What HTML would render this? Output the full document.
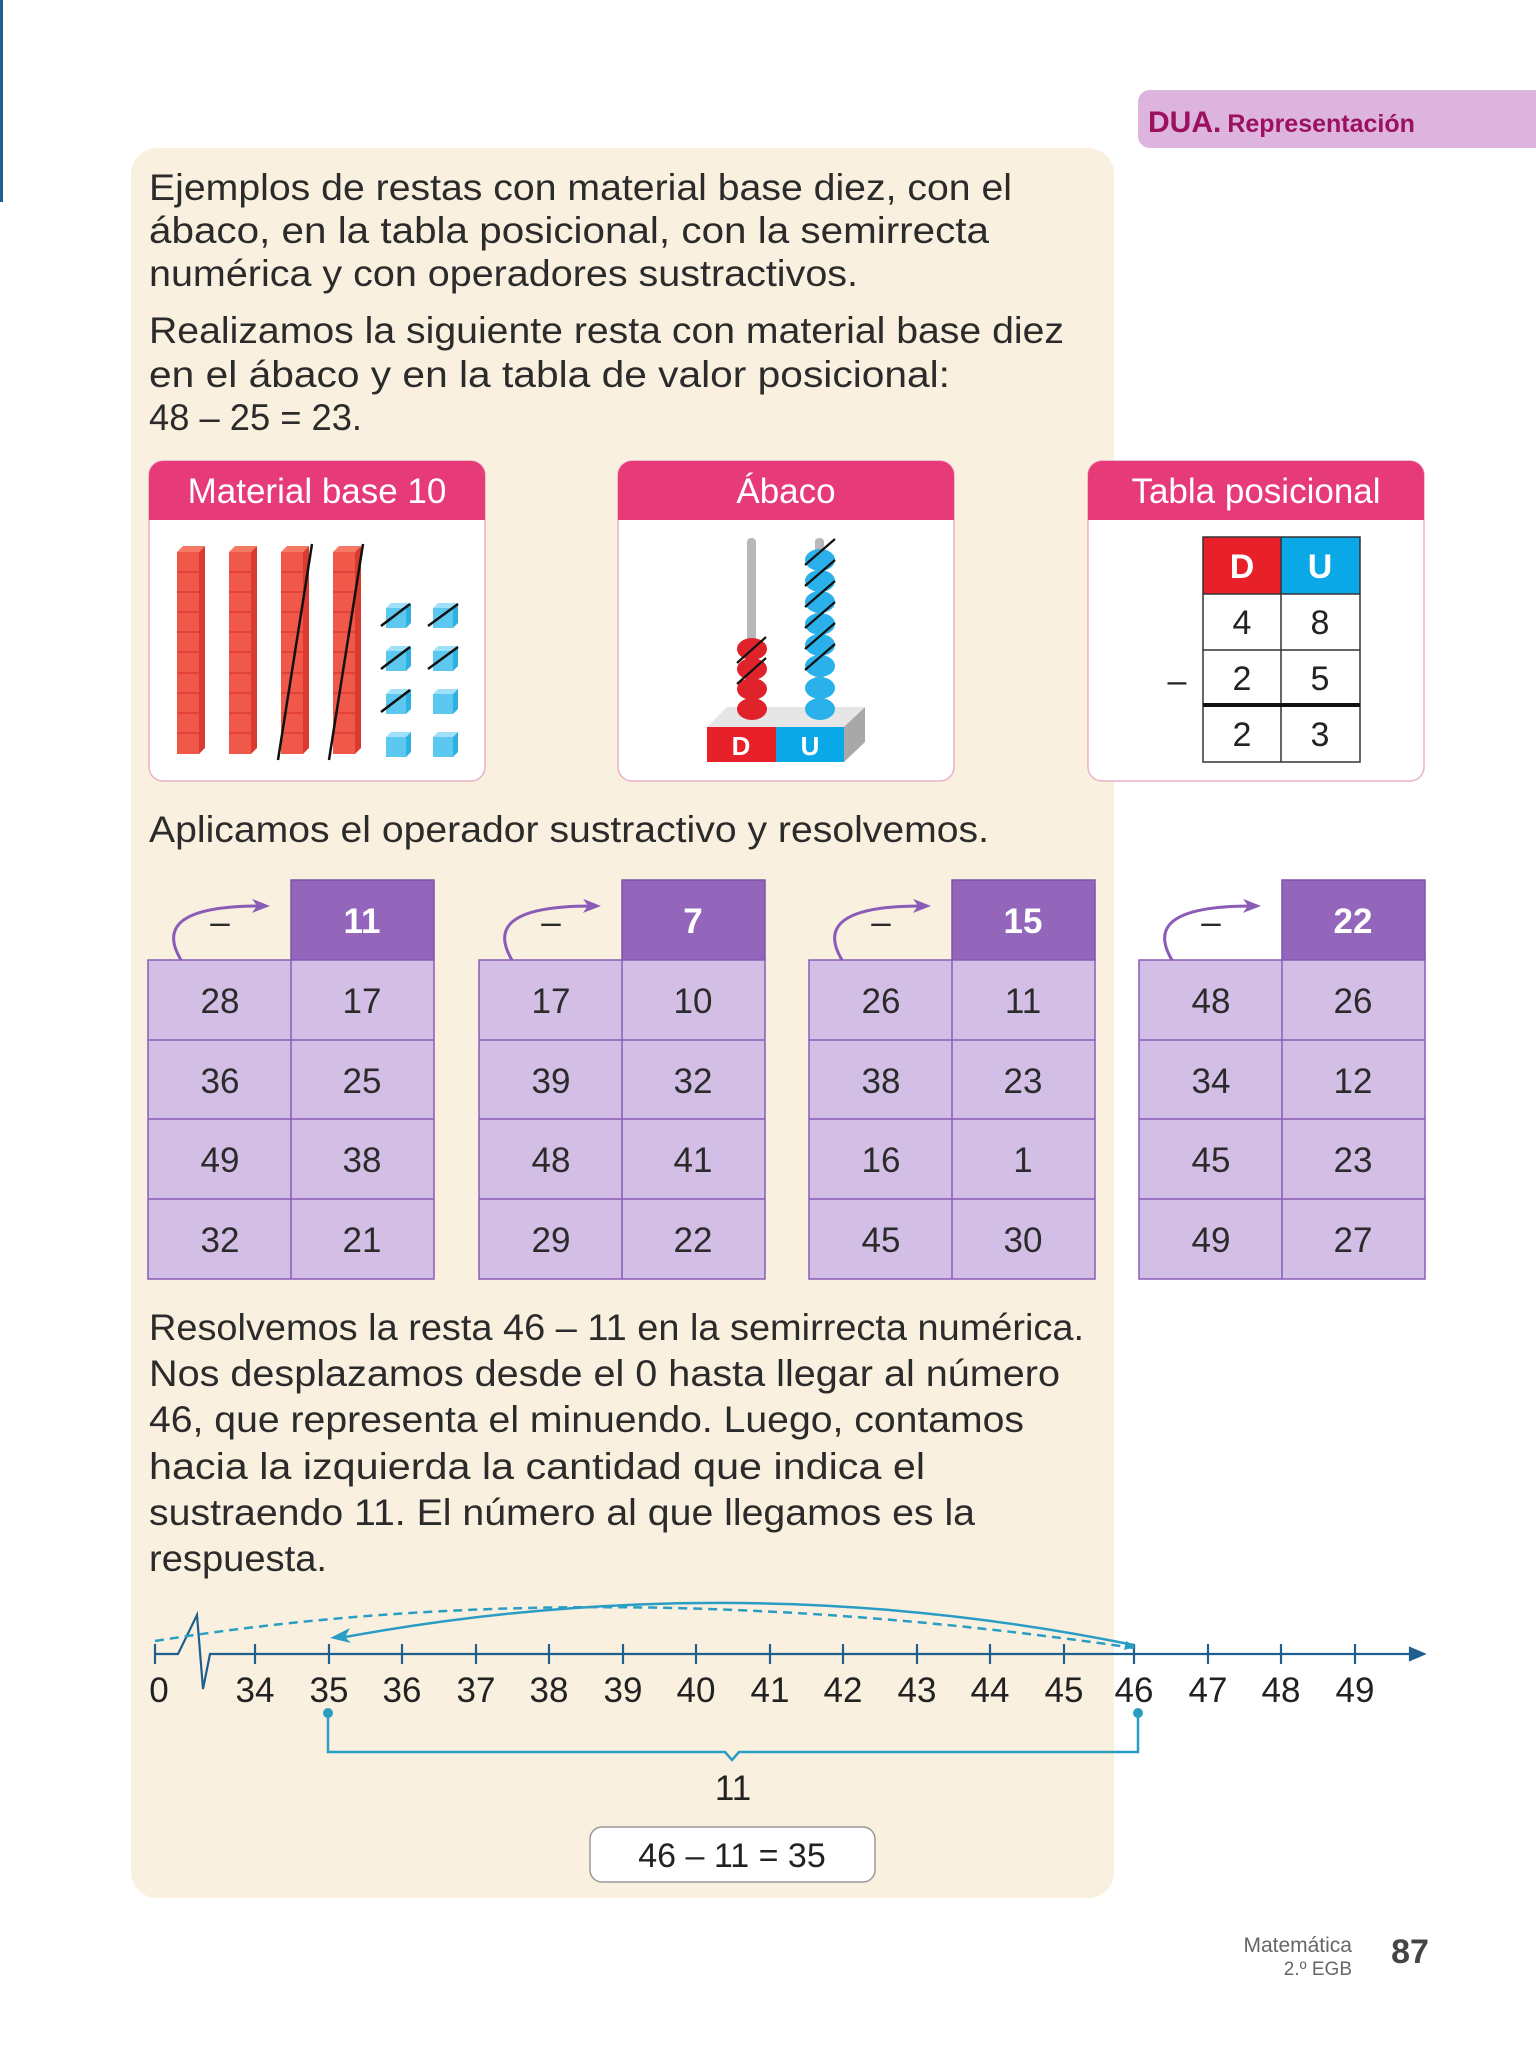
<!DOCTYPE html>
<html><head><meta charset="utf-8"><style>
html,body{margin:0;padding:0;background:#fff;}
svg{display:block;}
text{font-family:"Liberation Sans",sans-serif;}
</style></head><body>
<svg width="1536" height="2048" viewBox="0 0 1536 2048" xmlns="http://www.w3.org/2000/svg">
<defs>
<marker id="ah" markerWidth="8" markerHeight="8" refX="6" refY="4" orient="auto" markerUnits="userSpaceOnUse"><path d="M0,0 L8,4 L0,8 Z" fill="#2a9dc4"/></marker>
<marker id="ahp" markerWidth="18" markerHeight="14" refX="14" refY="7" orient="auto" markerUnits="userSpaceOnUse"><path d="M0,0 L18,7 L0,14 L5,7 Z" fill="#8a5cb8"/></marker>
<marker id="ahb" markerWidth="20" markerHeight="14" refX="2" refY="7" orient="auto" markerUnits="userSpaceOnUse"><path d="M20,0 L0,7 L20,14 L15,7 Z" fill="#2a9dc4"/></marker>
</defs>
<rect x="0" y="0" width="3" height="202" fill="#1f5f8f"/>
<!-- DUA tab -->
<rect x="1138" y="90" width="420" height="58" rx="12" fill="#ddb4dd"/>
<text x="1148" y="132" font-size="30" font-weight="bold" fill="#9b1060">DUA.<tspan font-size="25" dx="6">Representación</tspan></text>
<!-- beige -->
<rect x="131" y="148" width="983" height="1750" rx="26" fill="#faf0df"/>
<g font-size="37" fill="#2b2b2b">
<text x="149" y="200" textLength="863" lengthAdjust="spacingAndGlyphs">Ejemplos de restas con material base diez, con el</text>
<text x="149" y="243" textLength="840" lengthAdjust="spacingAndGlyphs">ábaco, en la tabla posicional, con la semirrecta</text>
<text x="149" y="286" textLength="709" lengthAdjust="spacingAndGlyphs">numérica y con operadores sustractivos.</text>
<text x="149" y="343" textLength="915" lengthAdjust="spacingAndGlyphs">Realizamos la siguiente resta con material base diez</text>
<text x="149" y="387" textLength="801" lengthAdjust="spacingAndGlyphs">en el ábaco y en la tabla de valor posicional:</text>
<text x="149" y="430" textLength="213" lengthAdjust="spacingAndGlyphs">48 – 25 = 23.</text>
<text x="149" y="842" textLength="840" lengthAdjust="spacingAndGlyphs">Aplicamos el operador sustractivo y resolvemos.</text>
<text x="149" y="1340" textLength="935" lengthAdjust="spacingAndGlyphs">Resolvemos la resta 46 – 11 en la semirrecta numérica.</text>
<text x="149" y="1386" textLength="911" lengthAdjust="spacingAndGlyphs">Nos desplazamos desde el 0 hasta llegar al número</text>
<text x="149" y="1432" textLength="875" lengthAdjust="spacingAndGlyphs">46, que representa el minuendo. Luego, contamos</text>
<text x="149" y="1479" textLength="776" lengthAdjust="spacingAndGlyphs">hacia la izquierda la cantidad que indica el</text>
<text x="149" y="1525" textLength="826" lengthAdjust="spacingAndGlyphs">sustraendo 11. El número al que llegamos es la</text>
<text x="149" y="1571" textLength="178" lengthAdjust="spacingAndGlyphs">respuesta.</text>
</g>
<!-- cards -->
<g>
<rect x="149" y="461" width="336" height="320" rx="14" fill="#fff" stroke="#eab0c8" stroke-width="1.5"/>
<path d="M149,520 V475 a14,14 0 0 1 14,-14 H471 a14,14 0 0 1 14,14 V520 Z" fill="#e63b78"/>
<text x="317" y="503" font-size="35" fill="#fff" text-anchor="middle">Material base 10</text>
<rect x="618" y="461" width="336" height="320" rx="14" fill="#fff" stroke="#eab0c8" stroke-width="1.5"/>
<path d="M618,520 V475 a14,14 0 0 1 14,-14 H940 a14,14 0 0 1 14,14 V520 Z" fill="#e63b78"/>
<text x="786" y="503" font-size="35" fill="#fff" text-anchor="middle">Ábaco</text>
<rect x="1088" y="461" width="336" height="320" rx="14" fill="#fff" stroke="#eab0c8" stroke-width="1.5"/>
<path d="M1088,520 V475 a14,14 0 0 1 14,-14 H1410 a14,14 0 0 1 14,14 V520 Z" fill="#e63b78"/>
<text x="1256" y="503" font-size="35" fill="#fff" text-anchor="middle">Tabla posicional</text>
</g>
<!-- rods -->
<g id="rods">
<g transform="translate(177,0)"><path d="M0,552 l6,-6 h22 l-6,6z" fill="#f47a66"/><rect x="0" y="552" width="22" height="202" fill="#f0584a"/><path d="M22,552 l6,-6 v202 l-6,6z" fill="#d93b30"/><path d="M0,572h22M0,592h22M0,612h22M0,632h22M0,652h22M0,673h22M0,693h22M0,713h22M0,733h22" stroke="#d9362c" stroke-width="1.2"/></g>
<g transform="translate(229,0)"><path d="M0,552 l6,-6 h22 l-6,6z" fill="#f47a66"/><rect x="0" y="552" width="22" height="202" fill="#f0584a"/><path d="M22,552 l6,-6 v202 l-6,6z" fill="#d93b30"/><path d="M0,572h22M0,592h22M0,612h22M0,632h22M0,652h22M0,673h22M0,693h22M0,713h22M0,733h22" stroke="#d9362c" stroke-width="1.2"/></g>
<g transform="translate(281,0)"><path d="M0,552 l6,-6 h22 l-6,6z" fill="#f47a66"/><rect x="0" y="552" width="22" height="202" fill="#f0584a"/><path d="M22,552 l6,-6 v202 l-6,6z" fill="#d93b30"/><path d="M0,572h22M0,592h22M0,612h22M0,632h22M0,652h22M0,673h22M0,693h22M0,713h22M0,733h22" stroke="#d9362c" stroke-width="1.2"/></g>
<g transform="translate(333,0)"><path d="M0,552 l6,-6 h22 l-6,6z" fill="#f47a66"/><rect x="0" y="552" width="22" height="202" fill="#f0584a"/><path d="M22,552 l6,-6 v202 l-6,6z" fill="#d93b30"/><path d="M0,572h22M0,592h22M0,612h22M0,632h22M0,652h22M0,673h22M0,693h22M0,713h22M0,733h22" stroke="#d9362c" stroke-width="1.2"/></g>
<line x1="278" y1="760" x2="312" y2="544" stroke="#111" stroke-width="2.5"/>
<line x1="329" y1="760" x2="363" y2="544" stroke="#111" stroke-width="2.5"/>
</g>
<g fill="#5cc8f0">
<g><rect x="386" y="608" width="20" height="20"/><path d="M386,608 l5,-5 h20 l-5,5z" fill="#a0e0f8"/><path d="M406,608 l5,-5 v20 l-5,5z" fill="#2eb0e0"/></g>
<g><rect x="433" y="608" width="20" height="20"/><path d="M433,608 l5,-5 h20 l-5,5z" fill="#a0e0f8"/><path d="M453,608 l5,-5 v20 l-5,5z" fill="#2eb0e0"/></g>
<g><rect x="386" y="651" width="20" height="20"/><path d="M386,651 l5,-5 h20 l-5,5z" fill="#a0e0f8"/><path d="M406,651 l5,-5 v20 l-5,5z" fill="#2eb0e0"/></g>
<g><rect x="433" y="651" width="20" height="20"/><path d="M433,651 l5,-5 h20 l-5,5z" fill="#a0e0f8"/><path d="M453,651 l5,-5 v20 l-5,5z" fill="#2eb0e0"/></g>
<g><rect x="386" y="694" width="20" height="20"/><path d="M386,694 l5,-5 h20 l-5,5z" fill="#a0e0f8"/><path d="M406,694 l5,-5 v20 l-5,5z" fill="#2eb0e0"/></g>
<g><rect x="433" y="694" width="20" height="20"/><path d="M433,694 l5,-5 h20 l-5,5z" fill="#a0e0f8"/><path d="M453,694 l5,-5 v20 l-5,5z" fill="#2eb0e0"/></g>
<g><rect x="386" y="737" width="20" height="20"/><path d="M386,737 l5,-5 h20 l-5,5z" fill="#a0e0f8"/><path d="M406,737 l5,-5 v20 l-5,5z" fill="#2eb0e0"/></g>
<g><rect x="433" y="737" width="20" height="20"/><path d="M433,737 l5,-5 h20 l-5,5z" fill="#a0e0f8"/><path d="M453,737 l5,-5 v20 l-5,5z" fill="#2eb0e0"/></g>
</g>
<g stroke="#111" stroke-width="2.5">
<line x1="381" y1="626" x2="410" y2="604"/><line x1="428" y1="626" x2="458" y2="604"/>
<line x1="381" y1="669" x2="410" y2="647"/><line x1="428" y1="669" x2="458" y2="647"/>
<line x1="381" y1="712" x2="410" y2="690"/>
</g>
<!-- abacus -->
<path d="M707,727 l20,-20 h138 l-21,20z" fill="#e6e6e6"/>
<path d="M844,727 l21,-20 v35 l-21,20z" fill="#a8a8a8"/>
<rect x="707" y="727" width="69" height="35" fill="#e8202a"/>
<rect x="776" y="727" width="68" height="35" fill="#0aa8e6"/>
<text x="741" y="755" font-size="26" font-weight="bold" fill="#fff" text-anchor="middle">D</text>
<text x="810" y="755" font-size="26" font-weight="bold" fill="#fff" text-anchor="middle">U</text>
<rect x="747" y="538" width="9" height="180" rx="4" fill="#b8b8b8"/>
<rect x="815" y="538" width="9" height="180" rx="4" fill="#b8b8b8"/>
<g fill="#e0222a">
<ellipse cx="752" cy="649" rx="15" ry="11"/><ellipse cx="752" cy="669" rx="15" ry="11"/><ellipse cx="752" cy="689" rx="15" ry="11"/><ellipse cx="752" cy="709" rx="15" ry="11"/>
</g>
<g fill="#2ab0ea">
<ellipse cx="820" cy="560" rx="15" ry="11"/><ellipse cx="820" cy="581" rx="15" ry="11"/><ellipse cx="820" cy="602" rx="15" ry="11"/><ellipse cx="820" cy="624" rx="15" ry="11"/><ellipse cx="820" cy="645" rx="15" ry="11"/><ellipse cx="820" cy="666" rx="15" ry="11"/><ellipse cx="820" cy="688" rx="15" ry="11"/><ellipse cx="820" cy="709" rx="15" ry="11"/>
</g>
<g stroke="#111" stroke-width="2.2">
<line x1="737" y1="663" x2="766" y2="637"/><line x1="737" y1="684" x2="766" y2="658"/>
<line x1="805" y1="565" x2="835" y2="539"/><line x1="805" y1="586" x2="835" y2="560"/><line x1="805" y1="607" x2="835" y2="581"/><line x1="805" y1="628" x2="835" y2="602"/><line x1="805" y1="649" x2="835" y2="623"/><line x1="805" y1="670" x2="835" y2="644"/>
</g>
<!-- tabla posicional -->
<rect x="1203" y="537" width="78" height="57" fill="#e8202a"/>
<rect x="1281" y="537" width="79" height="57" fill="#0aa8e6"/>
<g fill="none" stroke="#333" stroke-width="1.5"><rect x="1203" y="537" width="157" height="225"/><line x1="1281" y1="537" x2="1281" y2="762"/><line x1="1203" y1="594" x2="1360" y2="594"/><line x1="1203" y1="650" x2="1360" y2="650"/></g>
<line x1="1203" y1="705" x2="1360" y2="705" stroke="#111" stroke-width="4"/>
<g font-size="34" text-anchor="middle" fill="#222">
<text x="1242" y="578" font-weight="bold" fill="#fff">D</text><text x="1320" y="578" font-weight="bold" fill="#fff">U</text>
<text x="1242" y="634">4</text><text x="1320" y="634">8</text>
<text x="1242" y="690">2</text><text x="1320" y="690">5</text>
<text x="1242" y="746">2</text><text x="1320" y="746">3</text>
<text x="1177" y="692">–</text>
</g>
<!-- operator tables -->
<g font-size="35" text-anchor="middle" fill="#2b2b2b">
<g transform="translate(148,0)">
<rect x="143" y="880" width="143" height="80" fill="#9466bb" stroke="#7d52aa" stroke-width="1.5"/>
<rect x="0" y="960" width="286" height="319" fill="#d3bfe6" stroke="#8a5cb8" stroke-width="1.5"/>
<path d="M143,960V1279M0,1040H286M0,1119H286M0,1199H286" stroke="#8a5cb8" stroke-width="1.5"/>
<path d="M33,960 C15,930 25,905 118,906" fill="none" stroke="#8a5cb8" stroke-width="3" marker-end="url(#ahp)"/>
<text x="72" y="934">–</text>
<text x="214" y="933" fill="#fff" font-weight="bold">11</text>
<text x="72" y="1013">28</text><text x="214" y="1013">17</text>
<text x="72" y="1093">36</text><text x="214" y="1093">25</text>
<text x="72" y="1172">49</text><text x="214" y="1172">38</text>
<text x="72" y="1252">32</text><text x="214" y="1252">21</text>
</g>
<g transform="translate(479,0)">
<rect x="143" y="880" width="143" height="80" fill="#9466bb" stroke="#7d52aa" stroke-width="1.5"/>
<rect x="0" y="960" width="286" height="319" fill="#d3bfe6" stroke="#8a5cb8" stroke-width="1.5"/>
<path d="M143,960V1279M0,1040H286M0,1119H286M0,1199H286" stroke="#8a5cb8" stroke-width="1.5"/>
<path d="M33,960 C15,930 25,905 118,906" fill="none" stroke="#8a5cb8" stroke-width="3" marker-end="url(#ahp)"/>
<text x="72" y="934">–</text>
<text x="214" y="933" fill="#fff" font-weight="bold">7</text>
<text x="72" y="1013">17</text><text x="214" y="1013">10</text>
<text x="72" y="1093">39</text><text x="214" y="1093">32</text>
<text x="72" y="1172">48</text><text x="214" y="1172">41</text>
<text x="72" y="1252">29</text><text x="214" y="1252">22</text>
</g>
<g transform="translate(809,0)">
<rect x="143" y="880" width="143" height="80" fill="#9466bb" stroke="#7d52aa" stroke-width="1.5"/>
<rect x="0" y="960" width="286" height="319" fill="#d3bfe6" stroke="#8a5cb8" stroke-width="1.5"/>
<path d="M143,960V1279M0,1040H286M0,1119H286M0,1199H286" stroke="#8a5cb8" stroke-width="1.5"/>
<path d="M33,960 C15,930 25,905 118,906" fill="none" stroke="#8a5cb8" stroke-width="3" marker-end="url(#ahp)"/>
<text x="72" y="934">–</text>
<text x="214" y="933" fill="#fff" font-weight="bold">15</text>
<text x="72" y="1013">26</text><text x="214" y="1013">11</text>
<text x="72" y="1093">38</text><text x="214" y="1093">23</text>
<text x="72" y="1172">16</text><text x="214" y="1172">1</text>
<text x="72" y="1252">45</text><text x="214" y="1252">30</text>
</g>
<g transform="translate(1139,0)">
<rect x="143" y="880" width="143" height="80" fill="#9466bb" stroke="#7d52aa" stroke-width="1.5"/>
<rect x="0" y="960" width="286" height="319" fill="#d3bfe6" stroke="#8a5cb8" stroke-width="1.5"/>
<path d="M143,960V1279M0,1040H286M0,1119H286M0,1199H286" stroke="#8a5cb8" stroke-width="1.5"/>
<path d="M33,960 C15,930 25,905 118,906" fill="none" stroke="#8a5cb8" stroke-width="3" marker-end="url(#ahp)"/>
<text x="72" y="934">–</text>
<text x="214" y="933" fill="#fff" font-weight="bold">22</text>
<text x="72" y="1013">48</text><text x="214" y="1013">26</text>
<text x="72" y="1093">34</text><text x="214" y="1093">12</text>
<text x="72" y="1172">45</text><text x="214" y="1172">23</text>
<text x="72" y="1252">49</text><text x="214" y="1252">27</text>
</g>
</g>
<!-- number line -->
<g stroke="#1f5f8f" stroke-width="2.2" fill="none">
<path d="M155,1654 H178 L197,1615 L203,1689 L210,1654 H1410"/>
<path d="M1410,1648 L1424,1654 L1410,1660 Z" fill="#1f5f8f"/>
<line x1="155" y1="1644" x2="155" y2="1664"/>
<line x1="255" y1="1644" x2="255" y2="1664"/><line x1="329" y1="1644" x2="329" y2="1664"/><line x1="402" y1="1644" x2="402" y2="1664"/><line x1="476" y1="1644" x2="476" y2="1664"/><line x1="549" y1="1644" x2="549" y2="1664"/><line x1="623" y1="1644" x2="623" y2="1664"/><line x1="696" y1="1644" x2="696" y2="1664"/><line x1="770" y1="1644" x2="770" y2="1664"/><line x1="843" y1="1644" x2="843" y2="1664"/><line x1="917" y1="1644" x2="917" y2="1664"/><line x1="990" y1="1644" x2="990" y2="1664"/><line x1="1064" y1="1644" x2="1064" y2="1664"/><line x1="1134" y1="1644" x2="1134" y2="1664"/><line x1="1208" y1="1644" x2="1208" y2="1664"/><line x1="1281" y1="1644" x2="1281" y2="1664"/><line x1="1355" y1="1644" x2="1355" y2="1664"/>
</g>
<path d="M155,1641 Q600,1570 1134,1648" fill="none" stroke="#2a9dc4" stroke-width="2.5" stroke-dasharray="9,6"/>
<path d="M1126,1641 l10,6 l-12,3z" fill="#2a9dc4"/>
<path d="M1134,1645 Q740,1565 345,1637" fill="none" stroke="#2a9dc4" stroke-width="2.5"/>
<path d="M330,1638 l20,-10 l-5,9 l6,6 z" fill="#2a9dc4"/>
<g font-size="35" fill="#222" text-anchor="middle">
<text x="159" y="1702">0</text><text x="255" y="1702">34</text><text x="329" y="1702">35</text><text x="402" y="1702">36</text><text x="476" y="1702">37</text><text x="549" y="1702">38</text><text x="623" y="1702">39</text><text x="696" y="1702">40</text><text x="770" y="1702">41</text><text x="843" y="1702">42</text><text x="917" y="1702">43</text><text x="990" y="1702">44</text><text x="1064" y="1702">45</text><text x="1134" y="1702">46</text><text x="1208" y="1702">47</text><text x="1281" y="1702">48</text><text x="1355" y="1702">49</text>
<text x="733" y="1800">11</text>
</g>
<path d="M328,1713 V1752 H725 L732,1760 L739,1752 H1138 V1713" fill="none" stroke="#2a9dc4" stroke-width="2.5"/>
<circle cx="328" cy="1713" r="5" fill="#2a9dc4"/><circle cx="1138" cy="1713" r="5" fill="#2a9dc4"/>
<rect x="590" y="1827" width="285" height="55" rx="12" fill="#fff" stroke="#999" stroke-width="1.5"/>
<text x="732" y="1867" font-size="34" fill="#222" text-anchor="middle">46 – 11 = 35</text>
<!-- footer -->
<text x="1352" y="1952" font-size="21" fill="#666" text-anchor="end">Matemática</text>
<text x="1352" y="1975" font-size="19" fill="#666" text-anchor="end">2.º EGB</text>
<text x="1410" y="1963" font-size="34" font-weight="bold" fill="#444" text-anchor="middle">87</text>
</svg>
</body></html>
